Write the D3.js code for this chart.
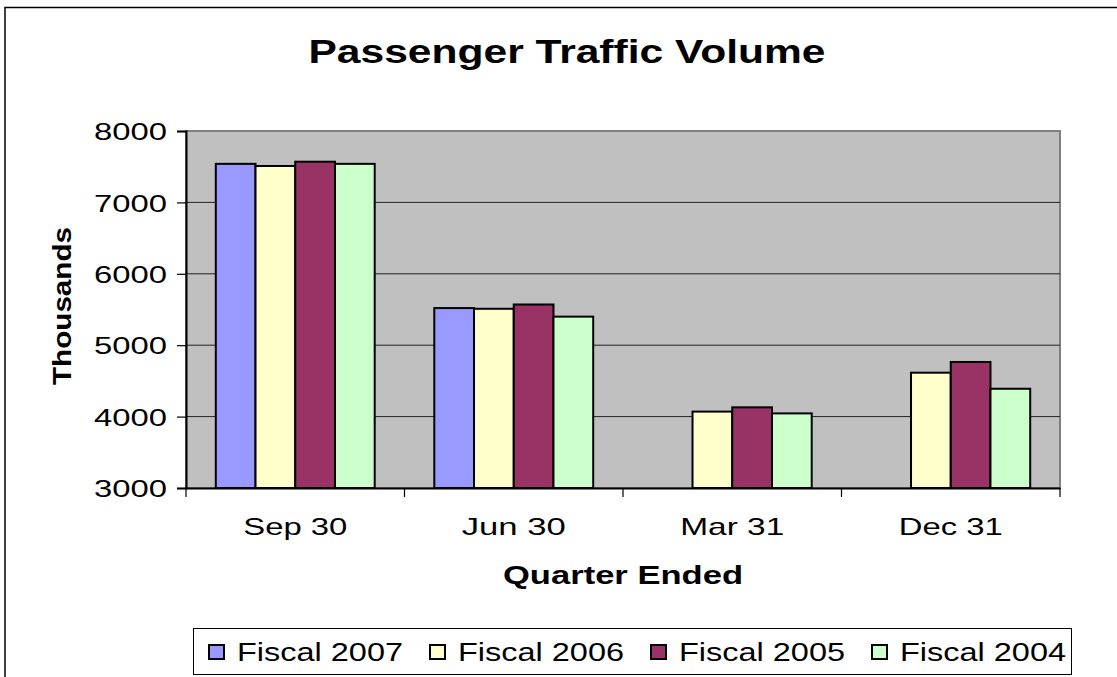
<!DOCTYPE html>
<html>
<head>
<meta charset="utf-8">
<script src="https://cdn.jsdelivr.net/npm/d3@7/dist/d3.min.js"></script>
<style>
  html, body { margin: 0; padding: 0; background: #fff; }
  svg { display: block; }
  text { font-family: "Liberation Sans", Arial, sans-serif; fill: #000; }
</style>
</head>
<body>
<svg id="chart" width="1117" height="677"></svg>
<script>
const categories = ["Sep 30", "Jun 30", "Mar 31", "Dec 31"];
const seriesNames = ["Fiscal 2007", "Fiscal 2006", "Fiscal 2005", "Fiscal 2004"];
const fiscal2007 = [7540, 5520, null, null];
const fiscal2006 = [7510, 5510, 4070, 4615];
const fiscal2005 = [7570, 5570, 4130, 4765];
const fiscal2004 = [7540, 5400, 4045, 4390];
const yTicks = [3000, 4000, 5000, 6000, 7000, 8000];
const colors = ["#9999FF", "#FFFFCC", "#993366", "#CCFFCC"];

const seriesValues = [fiscal2007, fiscal2006, fiscal2005, fiscal2004];

const svg = d3.select("#chart");
const plot = { left: 186, top: 131, right: 1060, bottom: 488 };

// outer chart border
svg.append("rect").attr("x", 5).attr("y", 7.5).attr("width", 1130).attr("height", 700)
  .attr("fill", "#fff").attr("stroke", "#000").attr("stroke-width", 1.5);

const x0 = d3.scaleBand().domain(categories).range([plot.left, plot.right]).padding(0);
const x1 = d3.scaleBand().domain(seriesNames).range([0, x0.bandwidth()])
  .paddingInner(0).paddingOuter(0.75);
const y = d3.scaleLinear().domain([3000, 8000]).range([plot.bottom, plot.top]);

// plot background
svg.append("rect").attr("x", plot.left).attr("y", plot.top)
  .attr("width", plot.right - plot.left).attr("height", plot.bottom - plot.top)
  .attr("fill", "#C0C0C0").attr("stroke", "#808080").attr("stroke-width", 2);

// gridlines
svg.append("g").selectAll("line").data(yTicks.filter(t => t > 3000 && t < 8000)).join("line")
  .attr("x1", plot.left).attr("x2", plot.right)
  .attr("y1", d => y(d)).attr("y2", d => y(d))
  .attr("stroke", "#222").attr("stroke-width", 1);

// bars
const flat = [];
categories.forEach((c, ci) => {
  seriesNames.forEach((s, si) => {
    const v = seriesValues[si][ci];
    if (v != null) flat.push({ c, s, v, color: colors[si] });
  });
});
svg.append("g").selectAll("rect").data(flat).join("rect")
  .attr("x", d => x0(d.c) + x1(d.s))
  .attr("width", x1.bandwidth())
  .attr("y", d => y(d.v))
  .attr("height", d => y(3000) - y(d.v))
  .attr("fill", d => d.color)
  .attr("stroke", "#000").attr("stroke-width", 2);

// y axis
const yAxis = svg.append("g").attr("transform", `translate(${plot.left},0)`)
  .call(d3.axisLeft(y).tickValues(yTicks).tickSize(9).tickPadding(10).tickFormat(d3.format("d")));
yAxis.select(".domain").attr("stroke", "#000").attr("stroke-width", 2);
yAxis.selectAll(".tick line").attr("stroke", "#000").attr("stroke-width", 1.2);
yAxis.selectAll(".tick text").attr("font-size", 24).attr("font-family", "DejaVu Sans, sans-serif")
  .attr("textLength", 73).attr("lengthAdjust", "spacingAndGlyphs").attr("dy", "0.36em");

// x axis
const xAxis = svg.append("g").attr("transform", `translate(0,${plot.bottom})`)
  .call(d3.axisBottom(x0).tickSize(0).tickPadding(30));
xAxis.select(".domain").attr("stroke", "#000").attr("stroke-width", 2);
xAxis.selectAll(".tick text").attr("font-size", 24).attr("font-family", "DejaVu Sans, sans-serif")
  .attr("textLength", 104).attr("lengthAdjust", "spacingAndGlyphs");
// category boundary ticks
const bounds = categories.map(c => x0(c)).concat([plot.right]);
svg.append("g").selectAll("line").data(bounds).join("line")
  .attr("x1", d => d).attr("x2", d => d)
  .attr("y1", plot.bottom).attr("y2", plot.bottom + 9)
  .attr("stroke", "#000").attr("stroke-width", 1.2);

// title
svg.append("text").attr("x", 567).attr("y", 63).attr("text-anchor", "middle")
  .attr("font-size", 33).attr("font-weight", "bold")
  .attr("textLength", 517).attr("lengthAdjust", "spacingAndGlyphs")
  .text("Passenger Traffic Volume");

// axis titles
svg.append("text").attr("x", 623).attr("y", 584).attr("text-anchor", "middle")
  .attr("font-size", 25).attr("font-weight", "bold")
  .attr("textLength", 240).attr("lengthAdjust", "spacingAndGlyphs")
  .text("Quarter Ended");
svg.append("text").attr("transform", "translate(71,306) rotate(-90)").attr("text-anchor", "middle")
  .attr("font-size", 25).attr("font-weight", "bold")
  .attr("textLength", 158).attr("lengthAdjust", "spacingAndGlyphs")
  .text("Thousands");

// legend
const legend = svg.append("g");
legend.append("rect").attr("x", 193.5).attr("y", 628.5).attr("width", 878).attr("height", 46)
  .attr("fill", "#fff").attr("stroke", "#000").attr("stroke-width", 1);
const items = legend.selectAll("g.item").data(seriesNames).join("g")
  .attr("class", "item")
  .attr("transform", (d, i) => `translate(${209 + i * 221},0)`);
items.append("rect").attr("x", 0).attr("y", 645).attr("width", 15).attr("height", 14)
  .attr("fill", (d, i) => colors[i]).attr("stroke", "#000").attr("stroke-width", 2);
items.append("text").attr("x", 28).attr("y", 661)
  .attr("font-size", 25).attr("font-family", "DejaVu Sans, sans-serif")
  .attr("textLength", 166).attr("lengthAdjust", "spacingAndGlyphs")
  .text(d => d);
</script>
</body>
</html>
